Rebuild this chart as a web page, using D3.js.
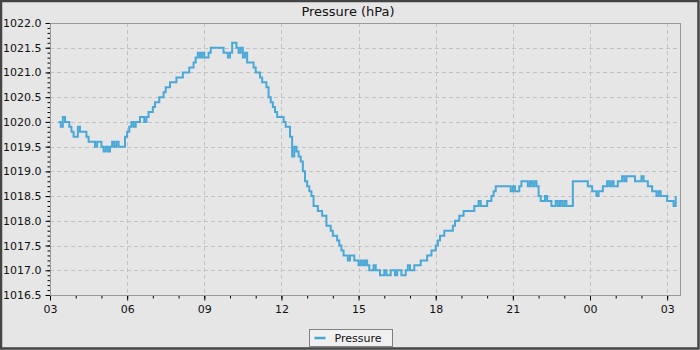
<!DOCTYPE html>
<html>
<head>
<meta charset="utf-8">
<script src="https://cdn.jsdelivr.net/npm/d3@7"></script>
<style>
  html, body { margin: 0; padding: 0; background: #e6e6e6; }
  svg { display: block; font-family: "DejaVu Sans", sans-serif; }
</style>
</head>
<body>
<svg id="chart" width="700" height="350"></svg>
<script>
// Station pressure readings, one every 5 minutes
const seriesName = "Pressure";
const chartTitle = "Pressure (hPa)";
const firstReading = "2024-05-03T03:20:00";
const readingStepMinutes = 5;
const pressure = [
  1020.0, 1019.9, 1020.1, 1020.0, 1020.0, 1019.9, 1019.8, 1019.7, 1019.7, 1019.9,
  1019.8, 1019.8, 1019.8, 1019.7, 1019.6, 1019.6, 1019.6, 1019.5, 1019.6, 1019.6,
  1019.5, 1019.4, 1019.5, 1019.4, 1019.5, 1019.6, 1019.5, 1019.6, 1019.5, 1019.5,
  1019.5, 1019.7, 1019.8, 1019.9, 1020.0, 1019.9, 1020.0, 1020.0, 1020.1, 1020.1,
  1020.0, 1020.1, 1020.2, 1020.2, 1020.3, 1020.4, 1020.4, 1020.5, 1020.5, 1020.6,
  1020.7, 1020.7, 1020.8, 1020.8, 1020.8, 1020.9, 1020.9, 1020.9, 1021.0, 1021.0,
  1021.0, 1021.1, 1021.1, 1021.2, 1021.3, 1021.4, 1021.3, 1021.4, 1021.3, 1021.3,
  1021.4, 1021.5, 1021.5, 1021.5, 1021.5, 1021.5, 1021.5, 1021.4, 1021.4, 1021.3,
  1021.4, 1021.6, 1021.6, 1021.5, 1021.4, 1021.5, 1021.3, 1021.4, 1021.2, 1021.2,
  1021.2, 1021.1, 1021.0, 1021.0, 1020.9, 1020.8, 1020.8, 1020.7, 1020.5, 1020.4,
  1020.3, 1020.2, 1020.1, 1020.1, 1020.1, 1020.0, 1019.9, 1019.9, 1019.7, 1019.3,
  1019.5, 1019.4, 1019.3, 1019.2, 1019.0, 1018.8, 1018.7, 1018.6, 1018.5, 1018.3,
  1018.3, 1018.2, 1018.2, 1018.1, 1018.1, 1017.9, 1017.9, 1017.8, 1017.7, 1017.7,
  1017.6, 1017.5, 1017.4, 1017.3, 1017.3, 1017.2, 1017.3, 1017.3, 1017.2, 1017.2,
  1017.1, 1017.2, 1017.1, 1017.2, 1017.1, 1017.0, 1017.0, 1017.1, 1017.0, 1017.0,
  1016.9, 1016.9, 1017.0, 1016.9, 1016.9, 1017.0, 1017.0, 1016.9, 1017.0, 1017.0,
  1016.9, 1016.9, 1017.0, 1017.1, 1017.0, 1017.0, 1017.1, 1017.1, 1017.1, 1017.2,
  1017.2, 1017.2, 1017.3, 1017.3, 1017.4, 1017.4, 1017.5, 1017.6, 1017.7, 1017.7,
  1017.8, 1017.8, 1017.8, 1017.8, 1017.9, 1018.0, 1018.0, 1018.1, 1018.1, 1018.2,
  1018.2, 1018.2, 1018.2, 1018.2, 1018.3, 1018.3, 1018.4, 1018.3, 1018.3, 1018.3,
  1018.4, 1018.4, 1018.5, 1018.6, 1018.7, 1018.7, 1018.7, 1018.7, 1018.7, 1018.7,
  1018.7, 1018.6, 1018.7, 1018.6, 1018.6, 1018.7, 1018.8, 1018.8, 1018.8, 1018.7,
  1018.8, 1018.7, 1018.8, 1018.7, 1018.5, 1018.4, 1018.4, 1018.5, 1018.4, 1018.4,
  1018.3, 1018.3, 1018.4, 1018.3, 1018.4, 1018.3, 1018.4, 1018.3, 1018.3, 1018.3,
  1018.8, 1018.8, 1018.8, 1018.8, 1018.8, 1018.8, 1018.8, 1018.7, 1018.7, 1018.6,
  1018.6, 1018.5, 1018.6, 1018.6, 1018.7, 1018.7, 1018.8, 1018.7, 1018.8, 1018.7,
  1018.7, 1018.8, 1018.8, 1018.9, 1018.8, 1018.9, 1018.9, 1018.9, 1018.9, 1018.8,
  1018.8, 1018.8, 1018.9, 1018.8, 1018.8, 1018.7, 1018.7, 1018.6, 1018.6, 1018.5,
  1018.6, 1018.5, 1018.5, 1018.5, 1018.4, 1018.4, 1018.4, 1018.3, 1018.5
];

// Axis extents
const timeStart = "2024-05-03T03:00:00";
const timeEnd = "2024-05-04T03:30:00";
const pressureMin = 1016.5;
const pressureMax = 1022.0;

const svg = d3.select("#chart");
const W = 700, H = 350;
const plot = { left: 50, top: 23, right: 680, bottom: 295 };
const lineColor = "#4aa8d8";

const t0 = new Date(firstReading);
const data = pressure.map((v, i) => ({
  t: new Date(t0.getTime() + i * readingStepMinutes * 60000),
  v
}));

const x = d3.scaleTime()
  .domain([new Date(timeStart), new Date(timeEnd)])
  .range([plot.left, plot.right]);
const y = d3.scaleLinear()
  .domain([pressureMin, pressureMax])
  .range([plot.bottom, plot.top]);

// Background
svg.append("rect").attr("width", W).attr("height", H).attr("fill", "#e6e6e6");

// Grid
const majorY = d3.range(0, 12).map(i => pressureMin + i * 0.5);
const majorX = x.ticks(d3.timeHour.every(3));
const grid = svg.append("g")
  .attr("stroke", "#c2c2c2").attr("stroke-width", 1).attr("stroke-dasharray", "4,3");
grid.selectAll("line.h").data(majorY).join("line")
  .attr("x1", plot.left).attr("x2", plot.right)
  .attr("y1", d => Math.round(y(d)) + 0.5).attr("y2", d => Math.round(y(d)) + 0.5);
grid.selectAll("line.v").data(majorX).join("line")
  .attr("y1", plot.top).attr("y2", plot.bottom)
  .attr("x1", d => Math.round(x(d)) + 0.5).attr("x2", d => Math.round(x(d)) + 0.5);

// Minor ticks
const minorY = d3.range(0, 56).map(i => pressureMin + i * 0.1);
svg.append("g")
  .attr("transform", `translate(${plot.left + 0.5},0)`)
  .call(d3.axisLeft(y).tickValues(minorY).tickSize(3).tickFormat(""))
  .call(g => g.select(".domain").remove())
  .call(g => g.selectAll("line").attr("stroke", "#000"));
svg.append("g")
  .attr("transform", `translate(0,${plot.bottom + 0.5})`)
  .call(d3.axisBottom(x).ticks(d3.timeHour.every(1)).tickSize(3).tickFormat(""))
  .call(g => g.select(".domain").remove())
  .call(g => g.selectAll("line").attr("stroke", "#000"));

// Major ticks and labels
svg.append("g")
  .attr("transform", `translate(${plot.left + 0.5},0)`)
  .call(d3.axisLeft(y).tickValues(majorY).tickSize(5).tickPadding(4).tickFormat(d3.format(".1f")))
  .call(g => g.select(".domain").remove())
  .call(g => g.selectAll("line").attr("stroke", "#000"))
  .call(g => g.selectAll("text").attr("fill", "#111").attr("font-size", 11)
    .attr("font-family", "DejaVu Sans"));
svg.append("g")
  .attr("transform", `translate(0,${plot.bottom + 0.5})`)
  .call(d3.axisBottom(x).tickValues(majorX).tickSize(5).tickPadding(5)
    .tickFormat(d3.timeFormat("%H")))
  .call(g => g.select(".domain").remove())
  .call(g => g.selectAll("line").attr("stroke", "#000"))
  .call(g => g.selectAll("text").attr("fill", "#111").attr("font-size", 11)
    .attr("font-family", "DejaVu Sans"));

// Plot frame
svg.append("rect")
  .attr("x", plot.left + 0.5).attr("y", plot.top + 0.5)
  .attr("width", plot.right - plot.left).attr("height", plot.bottom - plot.top)
  .attr("fill", "none").attr("stroke", "#999").attr("stroke-width", 1);

// Series
const line = d3.line()
  .x(d => x(d.t)).y(d => y(d.v))
  .curve(d3.curveStepAfter);
svg.append("path")
  .datum(data)
  .attr("d", line)
  .attr("fill", "none")
  .attr("stroke", lineColor)
  .attr("stroke-width", 2);

// Title
svg.append("text")
  .attr("x", 348).attr("y", 16)
  .attr("text-anchor", "middle")
  .attr("font-size", 13)
  .attr("fill", "#111")
  .text(chartTitle);

// Legend
const lg = svg.append("g").attr("transform", "translate(309.5,329.5)");
lg.append("rect").attr("width", 83).attr("height", 17)
  .attr("fill", "#f0f0f0").attr("stroke", "#808080");
lg.append("line").attr("x1", 5).attr("x2", 16).attr("y1", 8.5).attr("y2", 8.5)
  .attr("stroke", lineColor).attr("stroke-width", 2.5);
lg.append("text").attr("x", 25).attr("y", 12.5)
  .attr("font-size", 11).attr("fill", "#111").text(seriesName);

// Outer border
svg.append("rect").attr("x", 1).attr("y", 1).attr("width", W - 2.5).attr("height", H - 2.5)
  .attr("fill", "none").attr("stroke", "#454545").attr("stroke-width", 2.5);
</script>
</body>
</html>
